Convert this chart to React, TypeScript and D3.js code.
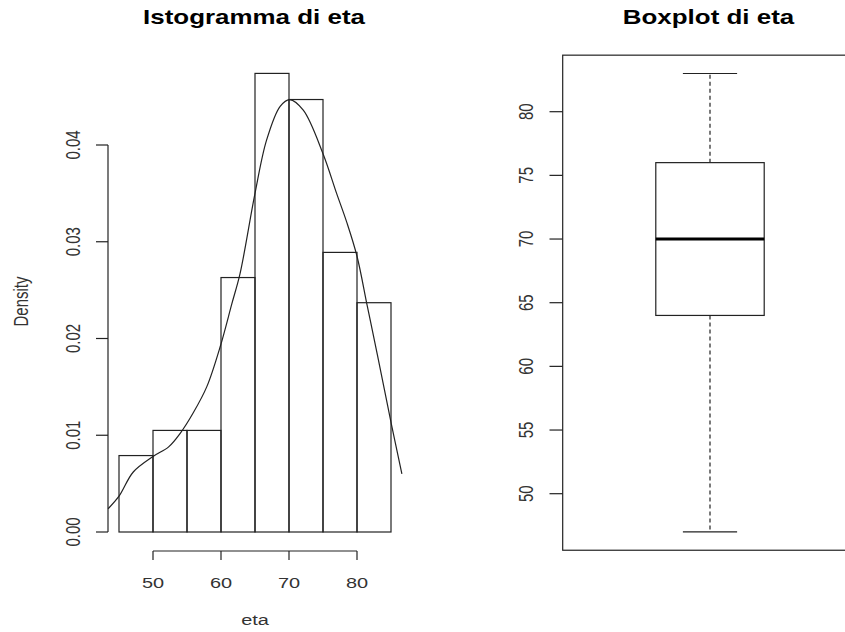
import React from "react";
import * as d3 from "d3";

// ---- data ----
const binEdges = [45, 50, 55, 60, 65, 70, 75, 80, 85];
const densities = [0.0079, 0.0105, 0.0105, 0.0263, 0.0474, 0.0447, 0.0289, 0.0237];
const histYTicks = [0, 0.01, 0.02, 0.03, 0.04];
const histYLabels = ["0.00", "0.01", "0.02", "0.03", "0.04"];
const histXTicks = [50, 60, 70, 80];
const curveEta = [43.4, 45, 47.1, 50, 52.3, 54, 55.9, 57.9, 59.9, 61.6, 62.8, 65, 66.7, 68.7, 70.1, 72.1, 75, 77, 78.5, 80, 81.5, 83, 85.1, 86.6];
const curveDens = [0.0024, 0.0037, 0.0062, 0.0078, 0.0088, 0.0102, 0.0123, 0.015, 0.0192, 0.0236, 0.0267, 0.035, 0.0405, 0.044, 0.0447, 0.0436, 0.0391, 0.035, 0.032, 0.0285, 0.0234, 0.0183, 0.011, 0.006];
const boxStats = { min: 47, q1: 64, median: 70, q3: 76, max: 83 };
const boxYTicks = [50, 55, 60, 65, 70, 75, 80];

const SX = 1.33;
const FONT = "'Liberation Sans', Arial, sans-serif";
const LINE = "#222";

function T({ x, y, rot = 0, size = 15, bold = false, anchor = "middle", children }: any) {
  return (
    <text
      transform={`translate(${x},${y}) scale(${SX},1) rotate(${rot})`}
      textAnchor={anchor}
      fontFamily={FONT}
      fontSize={size}
      fontWeight={bold ? "bold" : "normal"}
      fill={bold ? "#000" : "#333"}
    >
      {children}
    </text>
  );
}

export default function App() {
  // histogram scales
  const hx = d3.scaleLinear().domain([45, 85]).range([119, 391]);
  const hy = d3.scaleLinear().domain([0, 0.04]).range([532, 145]);
  const line = d3
    .line<number>()
    .x((_, i) => hx(curveEta[i]))
    .y((d) => hy(d))
    .curve(d3.curveCatmullRom);

  // boxplot scales
  const by = d3.scaleLinear().domain([50, 80]).range([493.7, 111.7]);
  const range = boxStats.max - boxStats.min;
  const frameLo = boxStats.min - 0.04 * range;
  const frameHi = boxStats.max + 0.04 * range;
  const bx = d3.scaleLinear().domain([0.5, 1.5]).range([562.7, 857.3]);
  const boxHalf = 0.184;
  const capHalf = boxHalf / 2;

  return (
    <svg width={845} height={632} style={{ position: "absolute", left: 0, top: 0, background: "#fff" }}>
      <rect width={845} height={632} fill="#fff" />
      {/* ---------- Histogram ---------- */}
      <T x={254} y={23.5} size={19.5} bold>Istogramma di eta</T>
      {densities.map((d, i) => (
        <rect
          key={i}
          x={hx(binEdges[i])}
          y={hy(d)}
          width={hx(binEdges[i + 1]) - hx(binEdges[i])}
          height={hy(0) - hy(d)}
          fill="none"
          stroke={LINE}
          strokeWidth={1.2}
        />
      ))}
      <path d={line(curveDens) || ""} fill="none" stroke={LINE} strokeWidth={1.2} />
      {/* y axis */}
      <line x1={108} x2={108} y1={hy(0)} y2={hy(0.04)} stroke={LINE} strokeWidth={1.2} />
      {histYTicks.map((t, i) => (
        <g key={i}>
          <line x1={96} x2={108} y1={hy(t)} y2={hy(t)} stroke={LINE} strokeWidth={1.2} />
          <T x={80} y={hy(t)} rot={-90}>{histYLabels[i]}</T>
        </g>
      ))}
      <T x={27.5} y={301.5} rot={-90}>Density</T>
      {/* x axis */}
      <line x1={hx(50)} x2={hx(80)} y1={551} y2={551} stroke={LINE} strokeWidth={1.2} />
      {histXTicks.map((t) => (
        <g key={t}>
          <line x1={hx(t)} x2={hx(t)} y1={551} y2={560} stroke={LINE} strokeWidth={1.2} />
          <T x={hx(t)} y={587.7}>{t}</T>
        </g>
      ))}
      <T x={255} y={625}>eta</T>

      {/* ---------- Boxplot ---------- */}
      <T x={708.5} y={23.5} size={19.5} bold>Boxplot di eta</T>
      <rect
        x={bx(0.5)}
        y={by(frameHi)}
        width={bx(1.5) - bx(0.5)}
        height={by(frameLo) - by(frameHi)}
        fill="none"
        stroke={LINE}
        strokeWidth={1.2}
      />
      {/* whiskers */}
      <line x1={bx(1)} x2={bx(1)} y1={by(boxStats.q3)} y2={by(boxStats.max)} stroke={LINE} strokeWidth={1.2} strokeDasharray="4,3" />
      <line x1={bx(1)} x2={bx(1)} y1={by(boxStats.q1)} y2={by(boxStats.min)} stroke={LINE} strokeWidth={1.2} strokeDasharray="4,3" />
      <line x1={bx(1 - capHalf)} x2={bx(1 + capHalf)} y1={by(boxStats.max)} y2={by(boxStats.max)} stroke={LINE} strokeWidth={1.2} />
      <line x1={bx(1 - capHalf)} x2={bx(1 + capHalf)} y1={by(boxStats.min)} y2={by(boxStats.min)} stroke={LINE} strokeWidth={1.2} />
      {/* box */}
      <rect
        x={bx(1 - boxHalf)}
        y={by(boxStats.q3)}
        width={bx(1 + boxHalf) - bx(1 - boxHalf)}
        height={by(boxStats.q1) - by(boxStats.q3)}
        fill="#fff"
        stroke={LINE}
        strokeWidth={1.2}
      />
      <line x1={bx(1 - boxHalf)} x2={bx(1 + boxHalf)} y1={by(boxStats.median)} y2={by(boxStats.median)} stroke="#000" strokeWidth={3} />
      {/* y axis ticks */}
      {boxYTicks.map((t) => (
        <g key={t}>
          <line x1={549.5} x2={bx(0.5)} y1={by(t)} y2={by(t)} stroke={LINE} strokeWidth={1.2} />
          <T x={533} y={by(t)} rot={-90}>{t}</T>
        </g>
      ))}
    </svg>
  );
}
